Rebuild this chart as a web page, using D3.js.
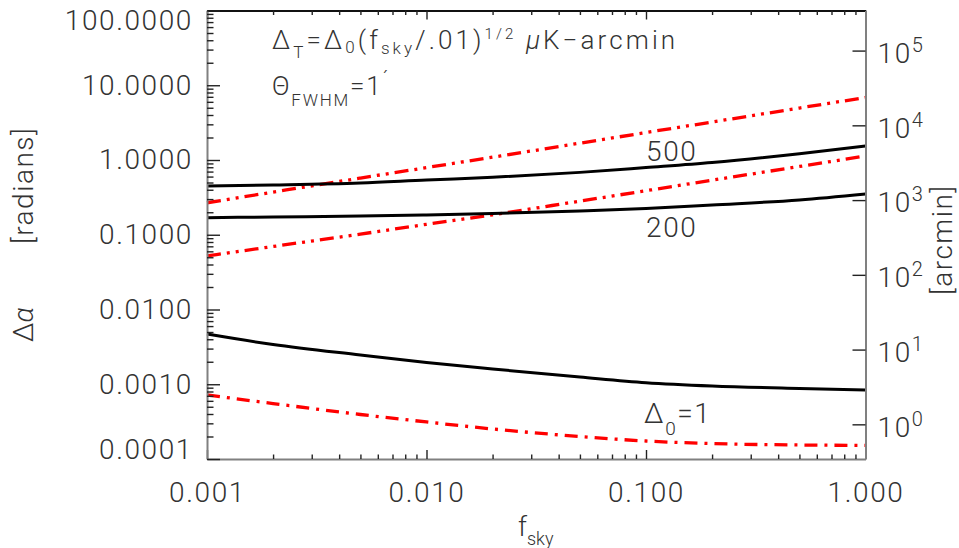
<!DOCTYPE html>
<html>
<head>
<meta charset="utf-8">
<script src="https://cdn.jsdelivr.net/npm/d3@7"></script>
<style>
  body { margin: 0; background: #fff; }
  svg text { font-family: Roboto, "Liberation Sans", Arial, sans-serif; font-weight: 300; fill: #333; }
  .axis path.domain { stroke: #808080; stroke-width: 2; }
  .axis line { stroke: #222; stroke-width: 1.4; }
  .axis text { font-size: 28px; letter-spacing: 1.6px; }
</style>
</head>
<body>
<svg id="canvas"></svg>
<script>
let width = 959;
let height = 548;

// data: fsky vs delta-alpha in radians
let fsky = [0.001, 0.002, 0.005, 0.01, 0.02, 0.05, 0.1, 0.2, 0.5, 1];
let black500 = [0.449, 0.463, 0.492, 0.540, 0.587, 0.683, 0.791, 0.923, 1.21, 1.54];
let black200 = [0.169, 0.173, 0.178, 0.184, 0.192, 0.208, 0.224, 0.250, 0.292, 0.351];
let black1 = [0.00470, 0.00340, 0.00246, 0.00195, 0.00160, 0.00125, 0.00105, 0.000948, 0.000877, 0.000837];
let red500 = [0.268, 0.372, 0.573, 0.791, 1.09, 1.68, 2.33, 3.22, 4.96, 6.86];
let red200 = [0.0520, 0.0697, 0.102, 0.138, 0.185, 0.282, 0.388, 0.537, 0.819, 1.13];
let red1 = [0.000718, 0.000552, 0.000394, 0.000313, 0.000252, 0.000200, 0.000174, 0.000161, 0.000154, 0.000152];

let xTicks = [0.001, 0.01, 0.1, 1];
let xTickLabels = ['0.001', '0.010', '0.100', '1.000'];
let yTicks = [1e-4, 1e-3, 1e-2, 1e-1, 1, 10, 100];
let yTickLabels = ['0.0001', '0.0010', '0.0100', '0.1000', '1.0000', '10.0000', '100.0000'];
let arcTicks = [1, 10, 100, 1e3, 1e4, 1e5];
let arcExponents = ['0', '1', '2', '3', '4', '5'];

let ARCMIN = 180 * 60 / Math.PI;

let canvas = d3.select('#canvas')
    .attr('width', width)
    .attr('height', height);

let xScale = d3.scaleLog().domain([0.001, 1]).range([207, 865.5]);
let yScale = d3.scaleLog().domain([1e-4, 100]).range([459, 10.5]);
let arcScale = d3.scaleLog().domain([1e-4 * ARCMIN, 100 * ARCMIN]).range([459, 10.5]);

let minors = (lo, hi) => {
    let out = [];
    for (let e = lo; e < hi; e++) {
        for (let d = 2; d <= 9; d++) out.push(d * Math.pow(10, e));
    }
    return out;
};

// curves
let line = d3.line()
    .x(d => xScale(d[0]))
    .y(d => yScale(d[1]))
    .curve(d3.curveMonotoneX);

let series = [
    { values: red500, color: '#ff0000', width: 3.3, dash: '14,6,3,6,3,6' },
    { values: red200, color: '#ff0000', width: 3.3, dash: '14,6,3,6,3,6' },
    { values: red1, color: '#ff0000', width: 3.3, dash: '13,7,3,7' },
    { values: black500, color: '#000', width: 3, dash: null },
    { values: black200, color: '#000', width: 3, dash: null },
    { values: black1, color: '#000', width: 3, dash: null }
];

canvas.selectAll('path.curve')
    .data(series)
    .enter()
    .append('path')
    .attr('class', 'curve')
    .attr('fill', 'none')
    .attr('stroke', s => s.color)
    .attr('stroke-width', s => s.width)
    .attr('stroke-dasharray', s => s.dash)
    .attr('d', s => line(fsky.map((f, i) => [f, s.values[i]])));

// axes
let drawAxes = () => {
    // top border
    canvas.append('g')
        .attr('class', 'axis')
        .attr('transform', 'translate(0,10.5)')
        .call(d3.axisTop(xScale).tickValues(xTicks).tickSizeInner(-9).tickSizeOuter(0).tickFormat(''))
        .select('path.domain').style('stroke', '#111');
    canvas.append('g')
        .attr('class', 'axis')
        .attr('transform', 'translate(0,10.5)')
        .call(d3.axisTop(xScale).tickValues(minors(-3, 0)).tickSizeInner(-4.5).tickFormat(''))
        .select('path.domain').remove();

    // bottom
    canvas.append('g')
        .attr('class', 'axis')
        .attr('transform', 'translate(0,459)')
        .call(d3.axisBottom(xScale).tickValues(xTicks).tickSizeInner(-9).tickSizeOuter(0)
            .tickPadding(23).tickFormat((d, i) => xTickLabels[i]));
    canvas.append('g')
        .attr('class', 'axis')
        .attr('transform', 'translate(0,459)')
        .call(d3.axisBottom(xScale).tickValues(minors(-3, 0)).tickSizeInner(-4.5).tickFormat(''))
        .select('path.domain').remove();

    // left
    let left = canvas.append('g')
        .attr('class', 'axis')
        .attr('transform', 'translate(207,0)')
        .call(d3.axisLeft(yScale).tickValues(yTicks).tickSizeInner(-13).tickSizeOuter(0)
            .tickPadding(14).tickFormat((d, i) => yTickLabels[i]));
    left.selectAll('.tick text')
        .attr('transform', d => d === 100 ? 'translate(0,10)' : d === 1e-4 ? 'translate(0,-9)' : null);
    canvas.append('g')
        .attr('class', 'axis')
        .attr('transform', 'translate(207,0)')
        .call(d3.axisLeft(yScale).tickValues(minors(-4, 2)).tickSizeInner(-6.5).tickFormat(''))
        .select('path.domain').remove();

    // right, arcmin
    let right = canvas.append('g')
        .attr('class', 'axis')
        .attr('transform', 'translate(865.5,0)')
        .call(d3.axisRight(arcScale).tickValues(arcTicks).tickSizeInner(-13).tickSizeOuter(0)
            .tickPadding(12).tickFormat(''));
    right.selectAll('.tick text')
        .attr('dy', '0.42em')
        .each(function (d, i) {
            let t = d3.select(this);
            t.append('tspan').text('10');
            t.append('tspan').attr('dy', '-0.55em').style('font-size', '20px').text(arcExponents[i]);
        });
};
drawAxes();

// axis titles
canvas.append('text')
    .attr('transform', 'translate(33,342) rotate(-90)')
    .style('font-size', '28px')
    .html('Δ<tspan font-style="italic">α</tspan>');
canvas.append('text')
    .attr('transform', 'translate(33,244) rotate(-90)')
    .style('font-size', '28px')
    .style('letter-spacing', '1.5px')
    .text('[radians]');
canvas.append('text')
    .attr('transform', 'translate(952,295) rotate(-90)')
    .style('font-size', '28px')
    .style('letter-spacing', '1.5px')
    .text('[arcmin]');

canvas.append('text')
    .attr('x', 518)
    .attr('y', 536)
    .style('font-size', '27px')
    .html('f<tspan dy="9" style="font-size:18px">sky</tspan>');

// annotations
canvas.append('text')
    .attr('x', 272)
    .attr('y', 49)
    .style('font-size', '26px')
    .style('letter-spacing', '3.1px')
    .html('Δ<tspan dy="9" style="font-size:17px">T</tspan><tspan dy="-9">=Δ</tspan>' +
        '<tspan dy="4" style="font-size:17px">0</tspan><tspan dy="-4">(f</tspan>' +
        '<tspan dy="5" style="font-size:17px">sky</tspan><tspan dy="-5">/.01)</tspan>' +
        '<tspan dy="-10" style="font-size:15px">1/2</tspan><tspan dy="10">  </tspan>' +
        '<tspan font-style="italic">μ</tspan>K−arcmin');

canvas.append('text')
    .attr('x', 272)
    .attr('y', 95)
    .style('font-size', '26px')
    .style('letter-spacing', '1.8px')
    .html('Θ<tspan dy="11" style="font-size:17px">FWHM</tspan><tspan dy="-11">=1</tspan>' +
        '<tspan dy="-9" style="font-size:20px">´</tspan>');

canvas.append('text')
    .attr('x', 646)
    .attr('y', 161)
    .style('font-size', '28px')
    .style('letter-spacing', '1.6px')
    .text('500');
canvas.append('text')
    .attr('x', 646)
    .attr('y', 237)
    .style('font-size', '28px')
    .style('letter-spacing', '1.6px')
    .text('200');
canvas.append('text')
    .attr('x', 644)
    .attr('y', 423)
    .style('font-size', '28px')
    .style('letter-spacing', '1.6px')
    .html('Δ<tspan dy="12" style="font-size:19px">0</tspan><tspan dy="-12">=1</tspan>');
</script>
</body>
</html>
